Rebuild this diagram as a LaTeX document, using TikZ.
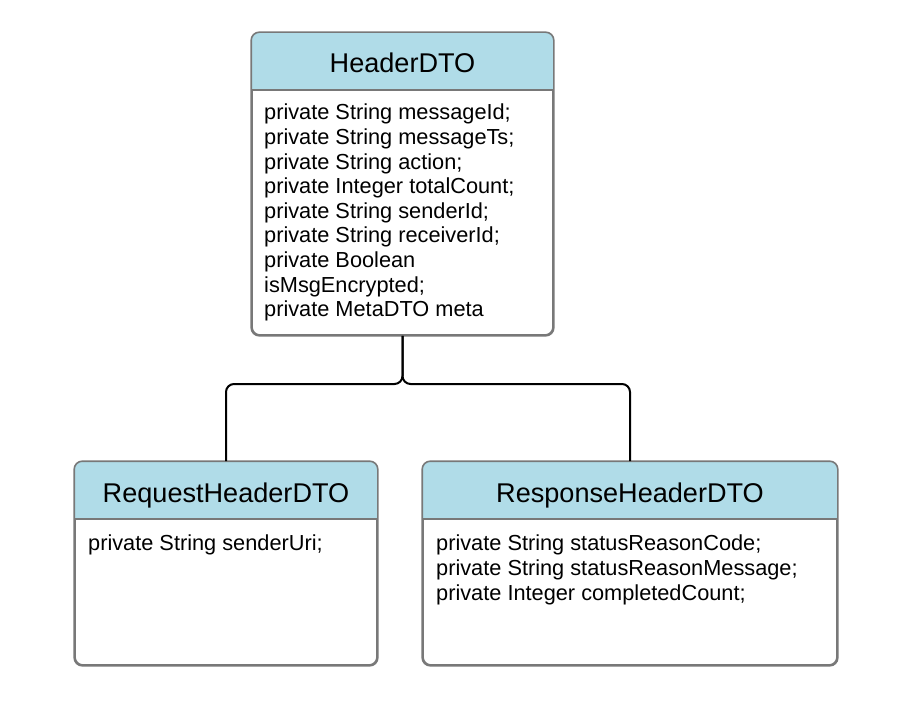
\documentclass[tikz,border=0pt]{standalone}
\usepackage{fontspec}
\setmainfont{Liberation Sans}
\definecolor{headblue}{RGB}{176,220,232}
\definecolor{boxgray}{RGB}{120,120,120}
\tikzset{
  classbox/.style={draw=boxgray, line width=1.6pt, fill=white, rounded corners=8pt, inner sep=0pt},
  titletext/.style={anchor=base, inner sep=0pt, font=\fontsize{27.1}{32}\selectfont},
  bodytext/.style={anchor=north west, inner sep=0pt, align=left, font=\fontsize{21.75}{24.6}\selectfont},
  link/.style={draw=black, line width=2pt, rounded corners=8pt},
}
\newcommand{\classshape}[1]{%
  \begin{scope}
    \clip[rounded corners=8pt] (#1.south west) rectangle (#1.north east);
    \fill[headblue] (#1.north west) rectangle ([yshift=-58pt]#1.north east);
  \end{scope}
  \draw[boxgray, line width=1.6pt] ([yshift=-58pt]#1.north west) -- ([yshift=-58pt]#1.north east);
  \draw[boxgray, line width=1.6pt, rounded corners=8pt] (#1.south west) rectangle (#1.north east);
}
\begin{document}
\begin{tikzpicture}[x=1pt, y=-1pt]
\useasboundingbox[fill=white] (0,0) rectangle (905,714);

% boxes
\node[classbox, minimum width=301pt, minimum height=302pt] (hdr) at (402.5,184) {};
\node[classbox, minimum width=302pt, minimum height=203pt] (req) at (226,563.5) {};
\node[classbox, minimum width=414pt, minimum height=203pt] (resp) at (630,563.5) {};
\classshape{hdr}
\classshape{req}
\classshape{resp}

% titles
\node[titletext] (hdrt) at (402.5,73) {HeaderDTO};
\node[titletext] (reqt) at (226,502) {RequestHeaderDTO};
\node[titletext] (respt) at (630,502) {ResponseHeaderDTO};

% bodies
\node[bodytext] (hdrb) at (264,104) {private String messageId;\\private String messageTs;\\private String action;\\private Integer totalCount;\\private String senderId;\\private String receiverId;\\private Boolean\\isMsgEncrypted;\\private MetaDTO meta};
\node[bodytext] (reqb) at (88,535) {private String senderUri;};
\node[bodytext] (respb) at (436,535) {private String statusReasonCode;\\private String statusReasonMessage;\\private Integer completedCount;};

% connectors
\coordinate (split) at (402.5,384);
\draw[link] (hdr.south) -- (split) -| (req.north);
\draw[link] (hdr.south) -- (split) -| (resp.north);
\end{tikzpicture}
\end{document}
